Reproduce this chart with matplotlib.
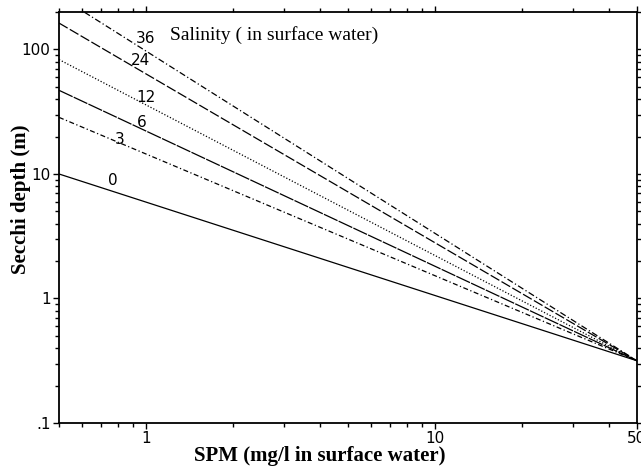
import matplotlib
matplotlib.use('Agg')
import matplotlib.pyplot as plt
from matplotlib.ticker import FixedLocator, FixedFormatter, NullFormatter

# SPM range (mg/l) covered by the lines
spm_ends = [0.5, 50]

# Salinity classes and Secchi depth (m) at each end of the SPM range
salinity = [0, 3, 6, 12, 24, 36]
secchi_low_spm = [10, 28.5, 47, 83, 163, 268]
secchi_high_spm = [0.316, 0.316, 0.316, 0.316, 0.316, 0.316]

# where the salinity numbers sit (SPM, Secchi depth)
label_x = [0.77, 0.81, 0.97, 1.0, 0.96, 1.0]
label_y = [8.8, 19, 26, 41, 82, 122]

styles = ['-', (0, (4, 2, 1, 2)), (0, (12, 1)), (0, (1, 1.5)),
          (0, (8, 2)), (0, (5, 2, 1, 2))]

x_ticks = [1, 10, 50]
x_tick_labels = ['1', '10', '50']
y_ticks = [0.1, 1, 10, 100]
y_tick_labels = ['.1', '1', '10', '100']

sans = ['Liberation Sans Narrow', 'DejaVu Sans']
serif = ['Liberation Serif', 'DejaVu Serif']

fig = plt.figure(figsize=(6.41, 4.69), dpi=100)
ax = fig.add_axes([59 / 641, 46 / 469, 578 / 641, 411 / 469])

for s, lo, hi, ls in zip(salinity, secchi_low_spm, secchi_high_spm, styles):
    ax.plot(spm_ends, [lo, hi], color='black', linewidth=0.9, linestyle=ls)

for s, lx, ly in zip(salinity, label_x, label_y):
    ax.text(lx, ly, str(s), fontsize=11, family=sans, ha='center', va='center')

ax.set_xscale('log')
ax.set_yscale('log')
ax.set_xlim(0.5, 50)
ax.set_ylim(0.1, 200)

ax.xaxis.set_major_locator(FixedLocator(x_ticks))
ax.xaxis.set_major_formatter(FixedFormatter(x_tick_labels))
ax.xaxis.set_minor_formatter(NullFormatter())
ax.yaxis.set_major_locator(FixedLocator(y_ticks))
ax.yaxis.set_major_formatter(FixedFormatter(y_tick_labels))
ax.yaxis.set_minor_formatter(NullFormatter())

ax.tick_params(which='both', direction='out', top=True, right=True,
               width=1, colors='black')
ax.tick_params(which='major', length=4, labelsize=11, pad=2)
ax.tick_params(which='minor', length=3)
for lab in ax.get_xticklabels() + ax.get_yticklabels():
    lab.set_family(sans)

for sp in ax.spines.values():
    sp.set_linewidth(1.3)

ax.text(0.192, 0.944, 'Salinity ( in surface water)', transform=ax.transAxes,
        fontsize=14, family=serif, ha='left', va='center')

fig.text(21 / 641, 1 - 199 / 469, 'Secchi depth (m)', rotation=90,
         fontsize=15, family=serif, fontweight='bold', ha='center', va='center')
fig.text(320 / 641, 1 - 456 / 469, 'SPM (mg/l in surface water)',
         fontsize=15, family=serif, fontweight='bold', ha='center', va='center')

fig.savefig('out.png', dpi=100)
